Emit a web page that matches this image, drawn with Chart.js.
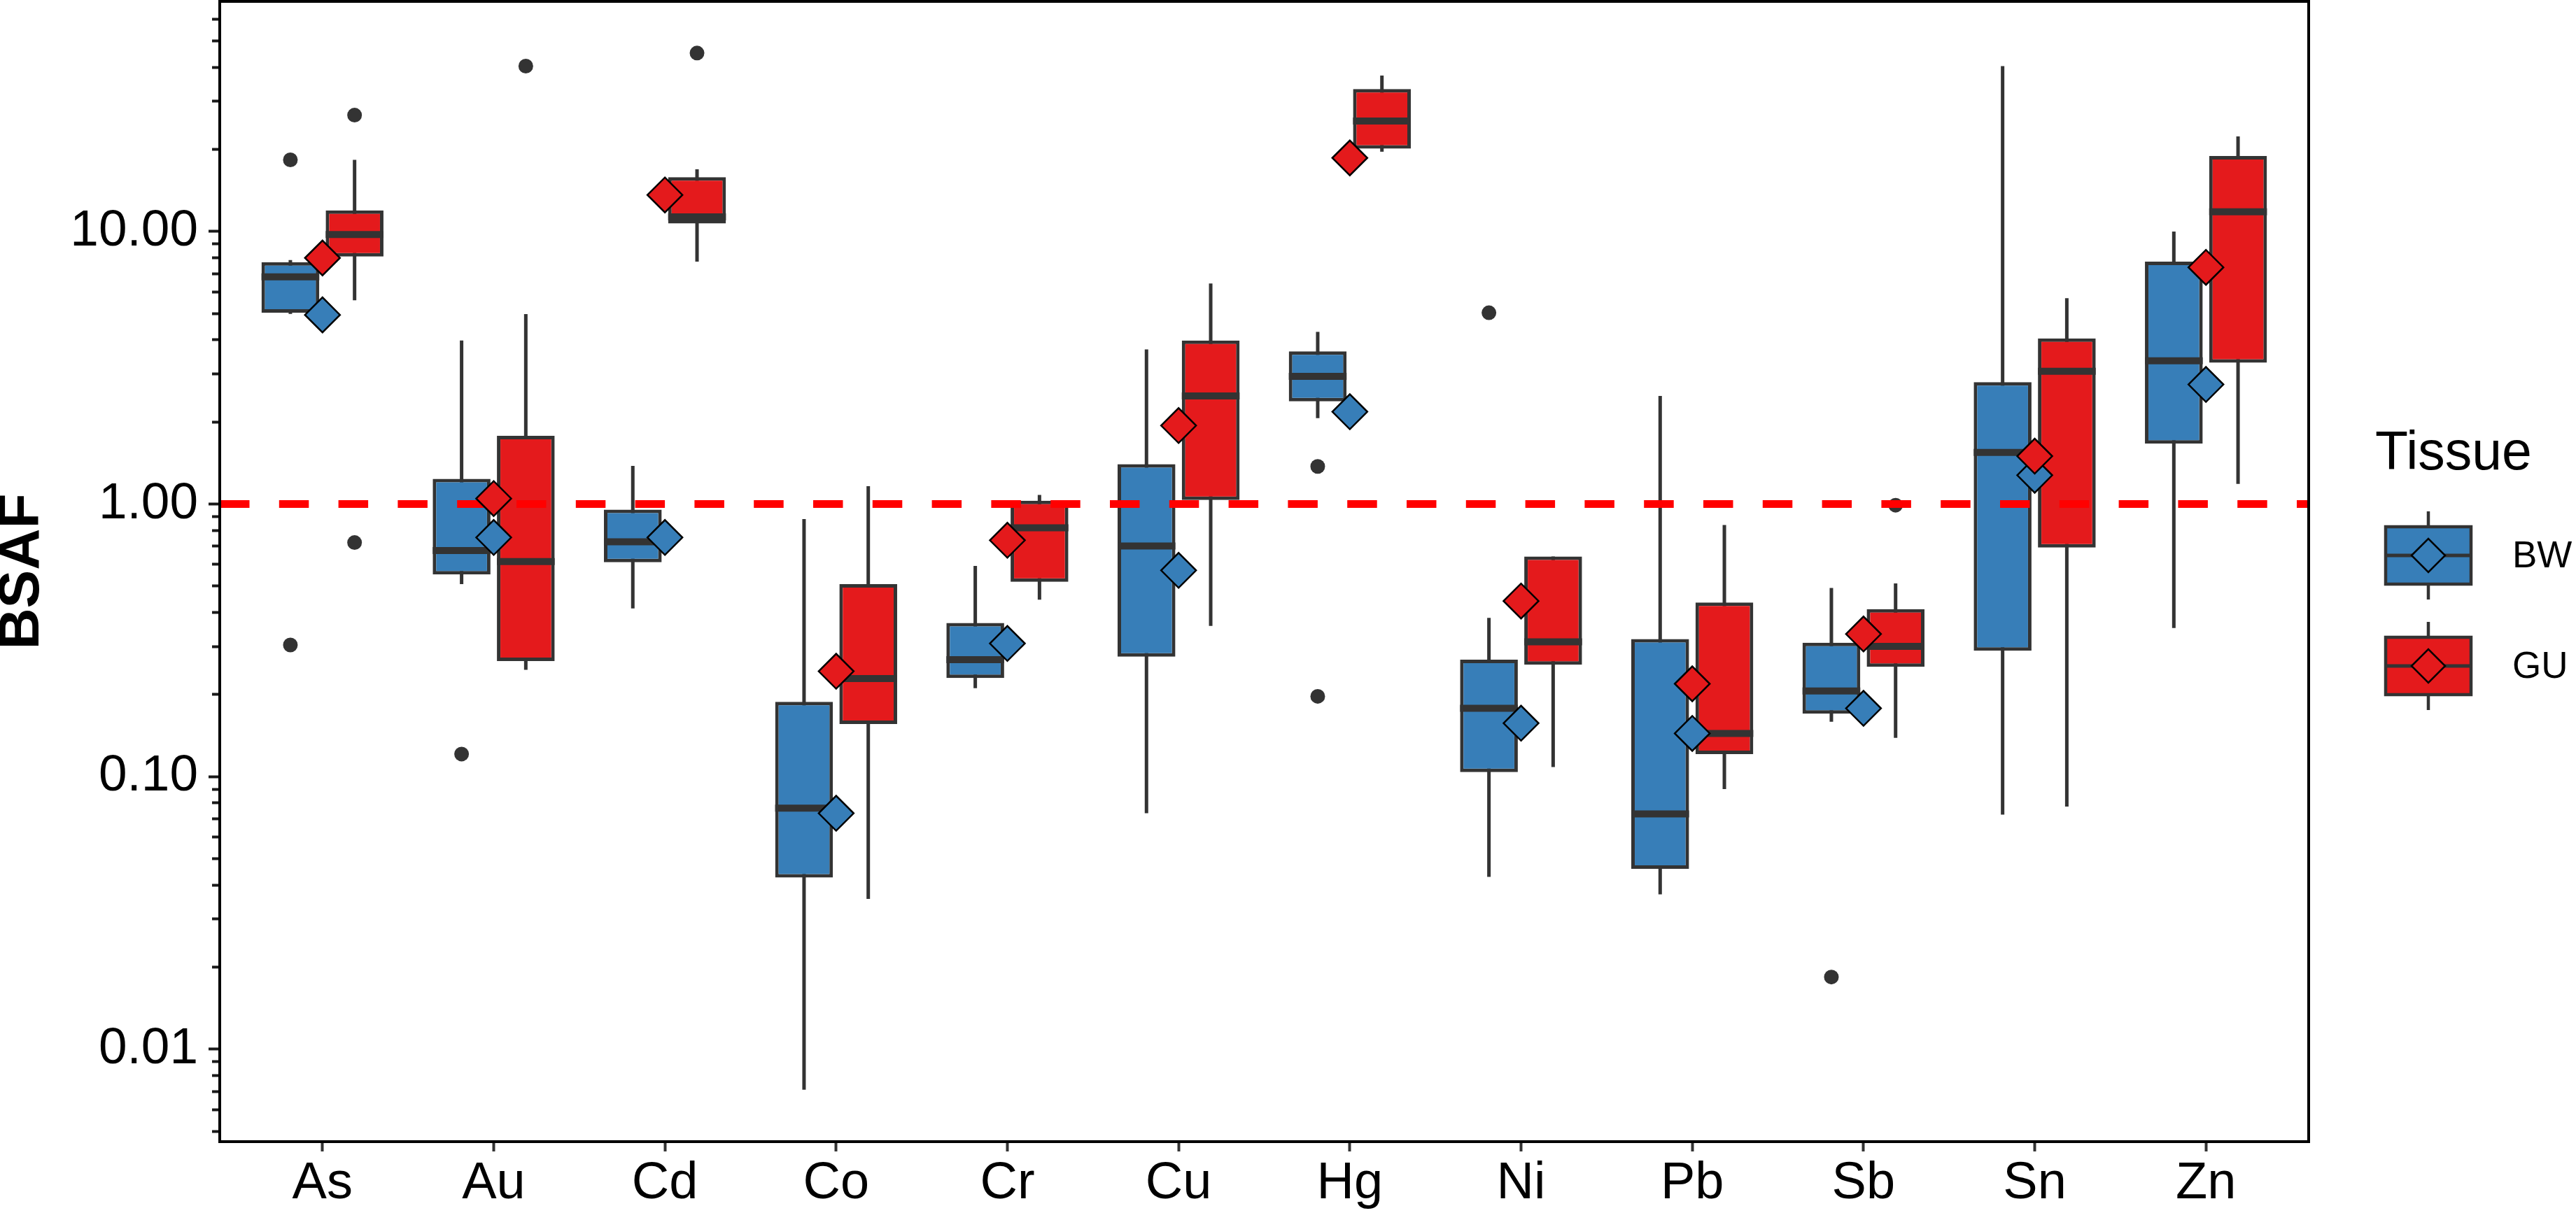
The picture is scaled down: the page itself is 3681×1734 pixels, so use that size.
<!DOCTYPE html>
<html><head><meta charset="utf-8">
<script src="https://cdn.jsdelivr.net/npm/chart.js@4.4.1/dist/chart.umd.min.js"></script>
<style>html,body{margin:0;padding:0;background:#fff}canvas{display:block}</style>
</head><body>
<canvas id="c" width="3681" height="1734" style="width:3681px;height:1734px"></canvas>
<script>
// ---------- data ----------
const categories = ['As','Au','Cd','Co','Cr','Cu','Hg','Ni','Pb','Sb','Sn','Zn'];
const seriesNames = ['BW','GU'];

const bwLow    = [4.98, 0.508, 0.414, 0.0071, 0.211, 0.0734, 2.065, 0.0429, 0.037, 0.159, 0.0725, 0.3506];
const bwQ1     = [5.03, 0.551, 0.611, 0.0426, 0.230, 0.2755, 2.38, 0.1038, 0.0459, 0.170, 0.2894, 1.664];
const bwMedian = [6.81, 0.675, 0.727, 0.0766, 0.2687, 0.701, 2.94, 0.178, 0.073, 0.206, 1.545, 3.35];
const bwQ3     = [7.71, 1.237, 0.954, 0.188, 0.366, 1.40, 3.63, 0.2687, 0.3197, 0.31, 2.80, 7.75];
const bwHigh   = [7.85, 3.98, 1.38, 0.881, 0.593, 3.69, 4.28, 0.382, 2.49, 0.492, 40.4, 9.99];
const bwMean   = [4.94, 0.754, 0.754, 0.0734, 0.308, 0.571, 2.18, 0.157, 0.144, 0.178, 1.275, 2.745];
const bwOutlierCats   = ['As','As','Au','Hg','Hg','Ni','Sb'];
const bwOutlierValues = [18.3, 0.304, 0.121, 1.374, 0.197, 5.03, 0.0184];

const guLow    = [5.59, 0.2465, 7.75, 0.0356, 0.446, 0.357, 19.6, 0.1084, 0.090, 0.1387, 0.0776, 1.185];
const guQ1     = [8.09, 0.2655, 10.69, 0.156, 0.518, 1.034, 20.1, 0.2574, 0.121, 0.2527, 0.692, 3.30];
const guMedian = [9.74, 0.615, 11.3, 0.229, 0.818, 2.49, 25.4, 0.312, 0.144, 0.3005, 3.07, 11.8];
const guQ3     = [11.95, 1.78, 15.8, 0.508, 1.028, 3.98, 33.3, 0.642, 0.435, 0.4117, 4.05, 18.9];
const guHigh   = [18.3, 4.97, 16.9, 1.163, 1.08, 6.44, 37.3, 0.642, 0.838, 0.511, 5.69, 22.3];
const guMean   = [7.99, 1.047, 13.6, 0.2435, 0.736, 1.94, 18.6, 0.4406, 0.219, 0.3336, 1.498, 7.38];
const guOutlierCats   = ['As','As','Au','Cd','Sb'];
const guOutlierValues = [26.7, 0.722, 40.4, 45.1, 0.99];

const yMajorTicks = [0.01, 0.1, 1, 10];
const yMinorTicks = [0.005,0.006,0.007,0.008,0.009,
                     0.02,0.03,0.04,0.05,0.06,0.07,0.08,0.09,
                     0.2,0.3,0.4,0.5,0.6,0.7,0.8,0.9,
                     2,3,4,5,6,7,8,9,
                     20,30,40,50,60];
const referenceValue = 1;
const yMin = 0.004581, yMax = 69.77;

// ---------- style ----------
const FONT = '"Liberation Sans", Arial, Helvetica, sans-serif';
const BLUE = '#377EB8', RED = '#E41A1C', DARK = '#333333';
const CAT_PCT = 0.75, BAR_PCT = 0.9;
const DODGE = CAT_PCT / 4;      // centre offset of each tissue group
const MEDIAN_HALF = 1.03;       // half thickness of median band (ratio on log axis)

Chart.defaults.font.family = FONT;

const xy = (vals) => vals.map((v, i) => ({x: i + 1, y: v}));
const range = (a, b) => a.map((v, i) => ({x: i + 1, y: [v, b[i]]}));
const medBand = (m) => m.map((v, i) => ({x: i + 1, y: [v / MEDIAN_HALF, v * MEDIAN_HALF]}));
const outl = (cats, vals, off) => cats.map((c, i) => ({x: categories.indexOf(c) + 1 + off, y: vals[i]}));

const barCommon = {type: 'bar', categoryPercentage: CAT_PCT, barPercentage: BAR_PCT, borderSkipped: false, yAxisID: 'y'};

const datasets = [
  // whiskers
  {...barCommon, label: 'BW whisker', stack: 'BW', order: 6, data: range(bwLow, bwHigh), backgroundColor: DARK, maxBarThickness: 5},
  {...barCommon, label: 'GU whisker', stack: 'GU', order: 6, data: range(guLow, guHigh), backgroundColor: DARK, maxBarThickness: 5},
  // boxes
  {...barCommon, label: 'BW', stack: 'BW', order: 5, data: range(bwQ1, bwQ3), backgroundColor: BLUE, borderColor: DARK, borderWidth: 5},
  {...barCommon, label: 'GU', stack: 'GU', order: 5, data: range(guQ1, guQ3), backgroundColor: RED, borderColor: DARK, borderWidth: 5},
  // medians
  {...barCommon, label: 'BW median', stack: 'BW', order: 4, data: medBand(bwMedian), backgroundColor: DARK},
  {...barCommon, label: 'GU median', stack: 'GU', order: 4, data: medBand(guMedian), backgroundColor: DARK},
  // outliers
  {type: 'scatter', label: 'BW outliers', order: 3, data: outl(bwOutlierCats, bwOutlierValues, -DODGE), pointRadius: 10.5, backgroundColor: DARK, borderWidth: 0, yAxisID: 'y'},
  {type: 'scatter', label: 'GU outliers', order: 3, data: outl(guOutlierCats, guOutlierValues, DODGE), pointRadius: 10.5, backgroundColor: DARK, borderWidth: 0, yAxisID: 'y'},
  // reference line
  {type: 'line', label: 'BSAF = 1', order: 2, data: [{x: 0.4, y: referenceValue}, {x: 12.6, y: referenceValue}], borderColor: '#FF0000', borderWidth: 11, borderDash: [42.5, 42.3], borderCapStyle: 'butt', pointRadius: 0, yAxisID: 'y'},
  // means
  {type: 'scatter', label: 'BW mean', order: 1, data: xy(bwMean), pointStyle: 'rectRot', pointRadius: 25, backgroundColor: BLUE, borderColor: '#000', borderWidth: 2.5, yAxisID: 'y'},
  {type: 'scatter', label: 'GU mean', order: 0, data: xy(guMean), pointStyle: 'rectRot', pointRadius: 25, backgroundColor: RED, borderColor: '#000', borderWidth: 2.5, yAxisID: 'y'}
];

const decor = {
  id: 'decor',
  afterDatasetsDraw(chart) {
    const {ctx, chartArea: a} = chart;
    ctx.save();
    ctx.strokeStyle = '#000';
    ctx.lineWidth = 4;
    ctx.strokeRect(a.left, a.top, a.right - a.left, a.bottom - a.top);
    ctx.restore();
  },
  afterDraw(chart) {
    const {ctx, chartArea: a} = chart;
    const x0 = a.right;
    ctx.save();
    ctx.fillStyle = '#000';
    ctx.textBaseline = 'alphabetic';
    ctx.font = '77px ' + FONT;
    ctx.fillText('Tissue', x0 + 95, 671);
    const keys = [{name: seriesNames[0], fill: BLUE, cy: 794}, {name: seriesNames[1], fill: RED, cy: 952}];
    keys.forEach(k => {
      const cx = x0 + 171, bl = x0 + 110, bw = 122, bh = 82;
      ctx.strokeStyle = DARK;
      ctx.lineWidth = 4.5;
      ctx.beginPath(); ctx.moveTo(cx, k.cy - 63); ctx.lineTo(cx, k.cy + 63); ctx.stroke();
      ctx.fillStyle = k.fill;
      ctx.fillRect(bl, k.cy - bh / 2, bw, bh);
      ctx.strokeRect(bl, k.cy - bh / 2, bw, bh);
      ctx.lineWidth = 5;
      ctx.beginPath(); ctx.moveTo(bl, k.cy); ctx.lineTo(bl + bw, k.cy); ctx.stroke();
      ctx.beginPath();
      ctx.moveTo(cx - 24, k.cy); ctx.lineTo(cx, k.cy - 24); ctx.lineTo(cx + 24, k.cy); ctx.lineTo(cx, k.cy + 24); ctx.closePath();
      ctx.fillStyle = k.fill; ctx.fill();
      ctx.strokeStyle = '#000'; ctx.lineWidth = 2.5; ctx.stroke();
      ctx.fillStyle = '#000';
      ctx.font = '53px ' + FONT;
      ctx.textBaseline = 'middle';
      ctx.fillText(k.name, x0 + 291, k.cy + 2);
    });
    ctx.restore();
  }
};

new Chart(document.getElementById('c'), {
  type: 'bar',
  data: {datasets},
  plugins: [decor],
  options: {
    responsive: false,
    devicePixelRatio: 1,
    animation: false,
    events: [],
    layout: {autoPadding: false, padding: {left: 0, top: 2, right: 382, bottom: 0}},
    plugins: {legend: {display: false}, tooltip: {enabled: false}},
    scales: {
      x: {
        type: 'linear', min: 0.4, max: 12.6, offset: false, bounds: 'data',
        afterBuildTicks: s => { s.ticks = categories.map((c, i) => ({value: i + 1})); },
        ticks: {callback: v => categories[Math.round(v) - 1], font: {size: 74}, color: '#000', padding: 2, maxRotation: 0, autoSkip: false},
        grid: {drawOnChartArea: false, offset: false, tickLength: 14, tickWidth: 4, tickColor: DARK},
        border: {display: false},
        afterFit: s => { s.height = 102; s.paddingLeft = 0; s.paddingRight = 0; }
      },
      y: {
        type: 'logarithmic', position: 'left', weight: 1, min: yMin, max: yMax, stacked: false, bounds: 'data',
        afterBuildTicks: s => { s.ticks = yMajorTicks.map(v => ({value: v, major: true})); },
        ticks: {callback: v => Number(v).toFixed(2), font: {size: 73}, color: '#000', padding: 15, autoSkip: false},
        grid: {drawOnChartArea: false, tickLength: 16, tickWidth: 4, tickColor: '#1a1a1a'},
        border: {display: false},
        title: {display: true, text: 'BSAF', color: '#000', font: {size: 82, weight: 'bold', lineHeight: 0.8}, padding: 0},
        afterFit: s => { s.width = 314; s.paddingTop = 0; s.paddingBottom = 0; }
      },
      yMinor: {
        type: 'logarithmic', position: 'left', weight: 0, min: yMin, max: yMax, stacked: false, bounds: 'data',
        afterBuildTicks: s => { s.ticks = yMinorTicks.map(v => ({value: v})); },
        ticks: {display: false},
        grid: {drawOnChartArea: false, tickLength: 11, tickWidth: 4, tickColor: '#1a1a1a'},
        border: {display: false},
        afterFit: s => { s.width = 0; s.paddingTop = 0; s.paddingBottom = 0; }
      }
    }
  }
});
</script>
</body></html>
